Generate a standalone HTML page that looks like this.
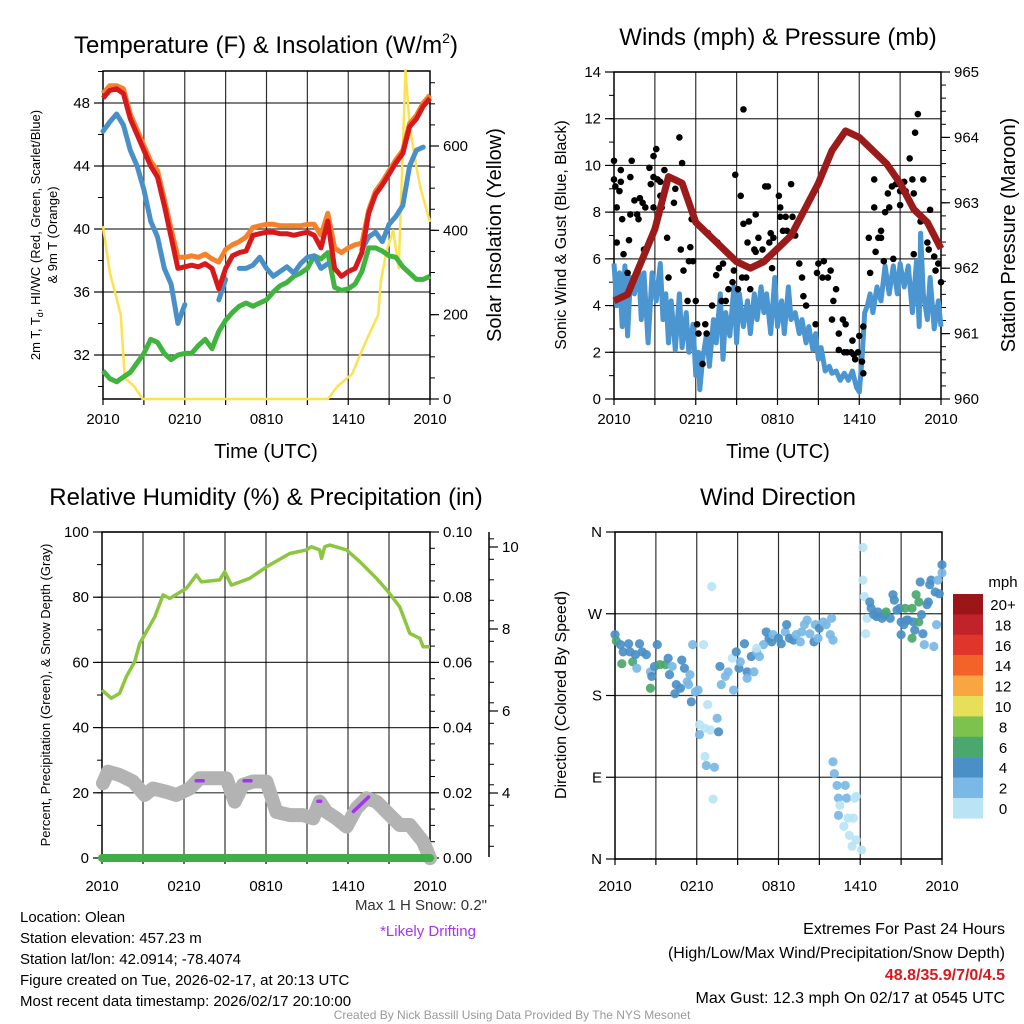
<!DOCTYPE html>
<html><head><meta charset="utf-8">
<style>
html,body{margin:0;padding:0;background:#fff;}
body{width:1024px;height:1024px;position:relative;overflow:hidden;font-family:"Liberation Sans",sans-serif;}
svg{position:absolute;left:0;top:0;}
text{font-family:"Liberation Sans",sans-serif;fill:#000;}
</style></head>
<body>
<svg id="chart" width="1024" height="1024" viewBox="0 0 1024 1024" xmlns="http://www.w3.org/2000/svg">
<text x="266" y="53" font-size="24" text-anchor="middle">Temperature (F) &amp; Insolation (W/m<tspan font-size="14" dy="-10">2</tspan><tspan dy="10">)</tspan></text>
<text x="778" y="45" font-size="24" text-anchor="middle">Winds (mph) &amp; Pressure (mb)</text>
<text x="266" y="505" font-size="24" text-anchor="middle">Relative Humidity (%) &amp; Precipitation (in)</text>
<text x="778" y="505" font-size="24" text-anchor="middle">Wind Direction</text>

<text x="266" y="458" font-size="20" text-anchor="middle">Time (UTC)</text>
<text x="778" y="458" font-size="20" text-anchor="middle">Time (UTC)</text>
<text transform="translate(40,235) rotate(-90)" font-size="13" text-anchor="middle">2m T, T<tspan font-size="9" dy="3">d</tspan><tspan dy="-3">, HI/WC (Red, Green, Scarlet/Blue)</tspan></text>
<text transform="translate(57,235) rotate(-90)" font-size="13" text-anchor="middle">&amp; 9m T (Orange)</text>
<text transform="translate(501,235) rotate(-90)" font-size="20" text-anchor="middle">Solar Insolation (Yellow)</text>
<text transform="translate(566,235) rotate(-90)" font-size="16" text-anchor="middle">Sonic Wind &amp; Gust (Blue, Black)</text>
<text transform="translate(1015,235) rotate(-90)" font-size="20" text-anchor="middle">Station Pressure (Maroon)</text>
<text transform="translate(50,695) rotate(-90)" font-size="13" text-anchor="middle">Percent, Precipitation (Green), &amp; Snow Depth (Gray)</text>
<text transform="translate(566,695) rotate(-90)" font-size="16" text-anchor="middle">Direction (Colored By Speed)</text>
<g id="layer"></g>

<text x="487" y="910" font-size="15" text-anchor="end" style="fill:#333">Max 1 H Snow: 0.2"</text>
<text x="428" y="936" font-size="15" text-anchor="middle" style="fill:#a335ee">*Likely Drifting</text>
<g font-size="15">
<text x="20" y="922">Location: Olean</text>
<text x="20" y="943">Station elevation: 457.23 m</text>
<text x="20" y="964">Station lat/lon: 42.0914; -78.4074</text>
<text x="20" y="985">Figure created on Tue, 2026-02-17, at 20:13 UTC</text>
<text x="20" y="1006">Most recent data timestamp: 2026/02/17 20:10:00</text>
</g>
<g font-size="16" text-anchor="end">
<text x="1005" y="934">Extremes For Past 24 Hours</text>
<text x="1005" y="958">(High/Low/Max Wind/Precipitation/Snow Depth)</text>
<text x="1005" y="980" font-weight="bold" style="fill:#d7191c">48.8/35.9/7/0/4.5</text>
<text x="1005" y="1003">Max Gust: 12.3 mph On 02/17 at 0545 UTC</text>
</g>
<text x="512" y="1019" font-size="12" text-anchor="middle" style="fill:#999">Created By Nick Bassill Using Data Provided By The NYS Mesonet</text>
</svg>
<script>
// ---------- DATA ----------
const timeLabels = ["2010","0210","0810","1410","2010"];
const halfHours = Array.from({length:49},(_,i)=>i*0.5);
const temp2m = [48.3,48.8,48.9,48.6,47,46,45,44,43.3,41.5,39.5,37.5,37.6,37.7,37.6,37.8,37.5,36.2,37.5,38.3,38.5,38.6,39.6,39.7,39.8,39.8,39.7,39.7,39.6,39.7,39.8,39.6,38.8,40.5,37.5,37,37.3,37.5,38.5,41,42.2,42.8,43.5,44.2,44.8,46.5,47,47.8,48.3];
const temp9m = [48.6,49.1,49.1,48.9,47.3,46.3,45.3,44.3,43.7,41.9,40,38.2,38.2,38.3,38.2,38.4,38.1,37.9,38.7,39,39.2,39.5,40.1,40.2,40.3,40.3,40.2,40.2,40.2,40.2,40.3,40.3,39.6,41,38.8,38.5,38.8,39,39.1,41.2,42.4,43,43.7,44.4,45,46.7,47.2,48,48.5];
const dewpoint = [31,30.5,30.3,30.6,30.9,31.5,32.1,33,32.8,32.1,31.7,32,32.1,32.1,32.6,33,32.4,33.5,34.2,34.7,35.1,35.3,35.1,35.3,35.5,36,36.4,36.6,37,37.2,37.5,38.3,38.1,38.5,36.3,36.1,36.2,36.5,37.3,38.8,38.8,38.6,38.3,38.2,37.6,37.2,36.8,36.8,37];
const windChill = [46.2,46.8,47.3,46.6,45,44,42.5,40.5,39.5,37.5,36.5,34,35.2,null,35.3,null,null,35.5,36.8,null,37.5,37.5,37.7,38.2,37.5,37,37.3,37.6,37.2,37.8,38.2,38.3,37.5,37.8,null,36.4,null,null,38.7,39.5,39.8,39.2,40.3,40.8,41.5,44,45,45.2,null];
const solarHours = [0,0.5,0.9,1.3,1.6,2.3,2.9,16.5,17.2,18.3,19.2,20.2,20.4,20.8,21.3,21.7,22.2,22.5,23,23.3,24];
const solarVals  = [410,300,250,200,50,30,0,0,30,60,130,200,280,350,400,310,780,650,550,500,420];
const pressHours = Array.from({length:25},(_,i)=>i);
const pressure = [961.5,961.6,962.1,962.6,963.4,963.3,962.7,962.5,962.3,962.1,962.0,962.1,962.3,962.5,962.9,963.3,963.8,964.1,964.0,963.8,963.6,963.3,962.9,962.7,962.3];
const sonicHours = [0,0.2,0.4,0.6,0.8,1,1.2,1.5,1.8,2,2.2,2.5,2.8,3.1,3.4,3.6,3.8,4,4.2,4.5,4.8,5,5.3,5.5,5.8,6,6.2,6.3,6.5,6.8,7,7.3,7.5,7.8,8,8.2,8.5,8.8,9,9.2,9.5,9.8,10,10.3,10.5,10.8,11,11.2,11.5,11.8,12,12.3,12.5,12.8,13,13.3,13.6,13.8,14.1,14.3,14.6,14.8,15,15.2,15.5,15.8,16,16.3,16.6,16.9,17.2,17.5,17.8,18,18.2,18.4,18.6,18.8,19,19.3,19.6,19.9,20.2,20.5,20.8,21,21.3,21.6,21.9,22.2,22.4,22.5,22.7,23,23.2,23.5,23.8,24];
const sonicWind = [5.8,4.0,5.4,3.1,5.7,2.7,5.2,4.5,5.7,3.4,5.4,2.4,5.4,4.2,5.8,3.4,4.5,2.4,4.2,2.1,4.5,2.2,3.7,2.0,3.2,1.0,2.0,0.4,1.7,2.8,1.4,3.4,2.4,4.5,1.7,3.7,2.7,4.8,2.4,4.5,3.1,4.2,2.8,4.5,3.4,4.8,3.7,4.5,2.8,5.2,3.1,4.2,2.8,4.8,3.4,3.7,2.8,3.4,2.4,3.1,2.1,2.8,1.7,2.2,1.2,1.4,1.1,1.2,0.8,1.1,0.8,1.2,0.5,0.3,1.7,3.7,4.0,4.5,3.7,4.8,4.2,5.7,4.5,5.7,4.5,5.8,4.8,5.7,3.7,5.9,3.1,7.1,4.5,3.4,5.2,3.0,4.2,3.1];
const gustHours = [0,0,0.1,0.2,0.4,0.5,0.5,0.6,0.7,0.2,1.0,1.1,1.2,1.2,1.3,1.5,1.7,1.8,1.9,2.1,2.3,2.2,2.6,2.7,2.9,2.9,2.9,3.1,3.2,3.4,3.4,3.3,3.7,3.5,3.9,4.0,4.4,4.5,4.8,4.9,5.0,5.1,5.4,5.5,5.6,5.7,5.8,6.0,6.1,6.2,6.5,6.7,6.8,6.9,7.2,7.5,7.6,7.7,7.9,8.0,8.2,8.4,8.7,8.8,8.9,9.1,9.3,9.4,9.5,9.7,9.9,9.8,10.0,10.3,10.4,10.4,10.6,10.9,11.0,11.1,11.3,11.4,11.5,11.6,11.7,12.1,12.2,12.2,12.4,12.6,12.7,13.0,13.1,13.3,13.6,13.7,13.8,13.9,14.1,14.8,14.9,15.0,15.3,15.4,15.7,15.9,16.0,16.3,16.1,16.5,16.8,17.0,16.5,16.9,17.1,17.4,17.6,17.9,18.0,17.5,17.7,18.2,18.3,18.3,18.7,18.8,19.1,19.1,19.2,19.4,19.6,19.6,19.8,19.9,20.1,20.2,20.4,20.5,20.7,20.8,21.0,21.0,21.3,21.4,21.7,21.9,22.0,22.0,22.1,22.3,22.5,22.7,23.0,23.1,23.2,23.5,23.6,23.8,24.0,9.5];
const gustVals  = [9.4,10.2,9.1,8.2,8.9,9.8,9.3,7.7,6.2,6.7,5.4,6.8,7.9,9.5,10.2,8.5,7.9,7.7,8.6,8.4,8.2,6.4,9.9,9.2,8.2,10.4,9.5,10.7,9.4,9.3,8.7,7.9,9.8,8.2,6.9,5.2,8.4,9.0,11.2,6.4,10.1,5.5,4.2,5.9,6.5,7.7,5.9,4.2,3.2,2.8,1.5,3.2,2.8,7.1,4.0,5.3,6.7,5.6,4.2,5.8,4.2,4.7,5.0,5.5,9.6,4.7,8.7,5.2,7.5,5.2,7.6,6.7,4.7,6.4,7.9,6.3,6.9,6.4,5.9,9.1,9.1,6.7,7.1,5.6,6.9,8.7,8.2,7.8,7.2,7.8,7.2,9.2,7.8,7.0,5.8,7.8,5.2,4.4,4.0,3.2,5.4,5.8,5.2,5.9,5.2,5.5,3.4,4.7,4.2,2.8,3.4,3.2,2.1,2.0,2.0,2.0,1.9,2.0,2.7,2.5,1.7,1.6,1.1,3.1,6.9,5.4,8.2,9.4,6.3,6.9,7.2,6.9,5.9,8.0,8.8,8.2,9.1,6.0,9.2,9.4,8.9,8.3,9.3,8.9,10.3,9.4,8.8,6.2,11.4,12.2,7.6,9.4,6.7,6.4,8.1,6.1,5.5,5.8,5.0,12.4];
const rhHours = [0,0.68,1.29,1.78,2.39,2.76,3.86,4.47,4.95,6.17,6.91,7.27,8.61,8.98,9.47,10.81,12.03,13.74,14.96,15.32,15.93,16.06,16.3,16.67,17.89,18.86,20.08,20.94,21.79,22.52,23.25,23.5,24];
const rhVals  = [51.5,49,50.5,55.6,60.2,65.8,74,80.7,79.6,82.7,86.8,84.7,85.3,87.8,83.7,85.8,89.3,93.4,94.5,95.5,94.5,91.9,95.5,96,94.5,90.9,85.8,81.7,77,68.9,67.4,64.8,64.8];
const snowHours = [0.07,0.44,1.29,2.27,3.12,3.73,4.71,5.44,6.42,7.15,8.37,9.1,9.71,10.32,11.05,12.03,12.76,13.74,14.71,15.45,15.93,16.42,17.15,17.89,18.62,19.35,20.08,21.06,21.79,22.52,23.5,24];
const snowDepth = [4.24,4.52,4.44,4.28,3.95,4.11,4.03,3.95,4.11,4.36,4.36,4.36,3.79,4.2,4.28,4.28,3.54,3.46,3.46,3.38,3.79,3.54,3.38,3.18,3.63,3.87,3.79,3.46,3.22,3.22,2.81,2.41];
const driftStart = [6.9,10.4,15.8,18.4];
const driftEnd   = [7.4,10.9,16.0,19.5];
const driftS0    = [4.3,4.3,3.8,3.55];
const driftS1    = [4.3,4.3,3.8,3.9];
const precipHours = [0,24];
const precipVals  = [0,0];
const dirHours = [0.0,0.1,0.4,0.6,0.5,1.0,1.1,1.3,1.5,1.8,2.0,1.6,2.3,2.6,2.7,2.6,3.1,2.9,3.3,3.7,3.9,4.0,4.2,4.5,4.4,4.8,4.9,5.1,5.3,5.5,5.4,5.6,5.9,6.1,5.7,6.5,6.2,6.6,6.8,7.0,7.5,7.6,6.2,6.6,6.7,7.3,7.2,7.1,7.7,7.8,8.1,8.3,8.6,8.7,8.9,9.1,9.2,9.5,9.7,9.7,10.0,10.2,10.4,10.6,10.9,11.1,11.3,11.5,11.6,12.0,12.2,12.5,12.6,12.8,13.1,13.3,13.6,13.7,13.9,14.1,14.3,14.6,14.7,14.9,15.0,15.3,15.5,15.8,15.9,16.0,10.4,16.0,16.1,16.3,16.4,16.5,16.9,17.0,16.4,16.8,17.1,17.5,17.6,17.7,17.2,17.4,17.7,18.1,18.2,18.2,18.3,18.5,18.4,18.7,18.8,19.0,19.2,19.3,19.6,19.8,19.9,20.2,20.4,20.5,20.7,20.9,21.0,21.2,21.3,21.4,21.5,21.8,21.9,22.0,22.1,22.3,22.3,21.8,21.0,22.4,22.5,22.6,22.7,22.9,23.0,23.1,23.2,23.4,23.5,23.6,23.7,23.8,24.0,24.0];
const dirVals = [247,240,236,228,215,237,228,217,225,237,228,210,225,206,201,188,236,212,214,214,221,203,212,192,182,188,219,210,195,203,192,173,184,186,236,236,148,144,170,142,155,140,137,113,103,101,66,300,212,192,201,206,221,186,228,210,217,237,206,199,223,206,228,223,236,250,243,239,247,243,237,250,258,243,241,247,239,250,258,263,248,239,258,243,254,261,258,247,265,241,232,107,94,81,67,59,81,67,48,36,45,45,67,69,26,14,21,10,343,307,289,265,248,283,276,269,267,272,265,269,272,265,291,285,274,276,261,258,276,263,263,276,261,252,291,261,283,243,247,305,269,248,236,280,283,302,307,234,294,258,307,292,315,324];
const dirSpeed = [5,7,5,5,7,5,5,7,5,5,5,3,5,3,5,7,5,5,7,7,5,5,3,5,5,5,5,5,3,3,3,5,3,3,3,1,1,1,1,1,3,5,3,1,3,3,1,1,5,3,3,3,1,3,5,5,3,5,5,3,5,3,3,3,3,5,5,5,3,5,5,3,5,5,5,3,3,3,3,3,3,5,3,3,5,3,3,3,3,3,1,3,3,3,3,1,3,3,3,1,1,1,1,1,1,1,1,1,1,1,1,1,1,5,5,5,5,5,5,5,7,5,5,5,5,5,5,5,7,5,5,7,5,5,7,7,7,7,5,5,5,5,3,5,5,5,5,3,5,3,3,5,3,5];
const speedBins = ["20+","18","16","14","12","10","8","6","4","2","0"];
const binColors = ["#9b1519","#c1232a","#e0352b","#f26229","#f8a542","#e8df58","#7dc24c","#4aa86e","#4a8fc6","#7ab9e5","#b8e4f6"];

// ---------- DRAW ----------
const NS="http://www.w3.org/2000/svg";
const layer=document.getElementById('layer');
function mk(tag,attrs,name,parent){
  const el=document.createElementNS(NS,tag);
  for(const k in attrs) el.setAttribute(k,attrs[k]);
  
  
  (parent||layer).appendChild(el);
  return el;
}
function scale(d0,d1,r0,r1){return v=>r0+(v-d0)/(d1-d0)*(r1-r0);}
function pathFrom(xs,ys,fx,fy){
  let d="",pen=false;
  for(let i=0;i<xs.length;i++){
    if(ys[i]==null){pen=false;continue;}
    d+=(pen?"L":"M")+fx(xs[i]).toFixed(1)+" "+fy(ys[i]).toFixed(1);
    pen=true;
  }
  return d;
}
function frame(x0,x1,y0,y1,name,hGrid,fy,xs,labOff){
  const g=mk('g',{},name+'-frame');
  for(let h=3;h<24;h+=3){const x=xs(h);mk('line',{x1:x,x2:x,y1:y0,y2:y1,stroke:'#000','stroke-width':1.2,opacity:0.8},name+'-vgrid',g);}
  hGrid.forEach(v=>{const y=fy(v);mk('line',{x1:x0,x2:x1,y1:y,y2:y,stroke:'#000','stroke-width':1.2,opacity:0.8},name+'-hgrid',g);});
  mk('rect',{x:x0,y:y0,width:x1-x0,height:y1-y0,fill:'none',stroke:'#000','stroke-width':1.5},name+'-border',g);
  for(let h=0;h<=24;h+=3){const x=xs(h);mk('line',{x1:x,x2:x,y1:y1,y2:y1+6,stroke:'#000','stroke-width':1.2},name+'-xtick',g);}
  timeLabels.forEach((t,i)=>{const tl=mk('text',{x:xs(i*6),y:y1+labOff,'font-size':15,'text-anchor':'middle'},name+'-xlabel',g);tl.textContent=t;});
  return g;
}
function yAxis(x,fy,major,labels,minor,side,name,fs){
  const dir=side==='left'?-1:1;
  minor.forEach(v=>mk('line',{x1:x,x2:x+dir*5,y1:fy(v),y2:fy(v),stroke:'#000','stroke-width':1},name+'-minor-tick'));
  major.forEach((v,i)=>{
    mk('line',{x1:x,x2:x+dir*9,y1:fy(v),y2:fy(v),stroke:'#000','stroke-width':1.2},name+'-tick');
    const t=mk('text',{x:x+dir*13,y:fy(v)+5,'font-size':fs||15,'text-anchor':side==='left'?'end':'start'},name+'-label');
    t.textContent=labels[i];
  });
}
function range(a,b,s){const r=[];for(let v=a;v<=b+1e-9;v+=s)r.push(+v.toFixed(4));return r;}

// Panel 1
{
 const X0=103,X1=430,Y0=71,Y1=399;
 const xs=scale(0,24,X0,X1), yt=scale(32,48,355,103), ys=scale(0,600,399,146);
 frame(X0,X1,Y0,Y1,'temp-panel',[48,44,40,36,32],yt,xs,25);
 yAxis(X0,yt,[48,44,40,36,32],["48","44","40","36","32"],range(30,50,2),'left','temp-y-axis');
 yAxis(X1,ys,[0,200,400,600],["0","200","400","600"],range(0,750,50),'right','solar-y-axis');
 mk('path',{d:pathFrom(solarHours,solarVals,xs,ys),fill:'none',stroke:'#fde24f','stroke-width':2.5,'stroke-linejoin':'round'},'solar-insolation-line');
 mk('path',{d:pathFrom(halfHours,dewpoint,xs,yt),fill:'none',stroke:'#41b33f','stroke-width':5,'stroke-linejoin':'round'},'dewpoint-line');
 mk('path',{d:pathFrom(halfHours,windChill,xs,yt),fill:'none',stroke:'#4a90c8','stroke-width':5,'stroke-linejoin':'round','stroke-linecap':'round'},'wind-chill-line');
 mk('path',{d:pathFrom(halfHours,temp9m,xs,yt),fill:'none',stroke:'#f5822a','stroke-width':5,'stroke-linejoin':'round'},'temp-9m-line');
 mk('path',{d:pathFrom(halfHours,temp2m,xs,yt),fill:'none',stroke:'#d7191c','stroke-width':5,'stroke-linejoin':'round'},'temp-2m-line');
}
// Panel 2
{
 const X0=614,X1=941,Y0=72,Y1=399;
 const xs=scale(0,24,X0,X1), yw=scale(0,14,399,72), yp=scale(960,965,399,72);
 frame(X0,X1,Y0,Y1,'wind-panel',[0,2,4,6,8,10,12,14],yw,xs,25);
 yAxis(X0,yw,[0,2,4,6,8,10,12,14],["0","2","4","6","8","10","12","14"],range(0,14,1),'left','wind-y-axis');
 yAxis(X1,yp,[960,961,962,963,964,965],["960","961","962","963","964","965"],range(960,965,0.2),'right','pressure-y-axis');
 mk('path',{d:pathFrom(sonicHours,sonicWind,xs,yw),fill:'none',stroke:'#4b95d0','stroke-width':5,'stroke-linejoin':'round'},'sonic-wind-line');
 const gg=mk('g',{},'gust-points');
 for(let i=0;i<gustHours.length;i++) mk('circle',{cx:xs(gustHours[i]),cy:yw(gustVals[i]),r:3.3,fill:'#000'},'gust-point',gg);
 mk('path',{d:pathFrom(pressHours,pressure,xs,yp),fill:'none',stroke:'#9b1b1b','stroke-width':7,'stroke-linejoin':'round'},'pressure-line');
}
// Panel 3
{
 const X0=102,X1=430,Y0=532,Y1=858;
 const xs=scale(0,24,X0,X1), yr=scale(0,100,858,532), ypr=scale(0,0.1,858,532), ysn=scale(4,10,793,547);
 frame(X0,X1,Y0,Y1,'rh-panel',[0,20,40,60,80,100],yr,xs,33);
 yAxis(X0,yr,[0,20,40,60,80,100],["0","20","40","60","80","100"],range(0,100,10),'left','rh-y-axis');
 yAxis(X1,ypr,[0,0.02,0.04,0.06,0.08,0.1],["0.00","0.02","0.04","0.06","0.08","0.10"],range(0,0.1,0.005),'right','precip-y-axis');
 mk('line',{x1:489,x2:489,y1:532,y2:857,stroke:'#000','stroke-width':1.5},'snow-axis-line');
 yAxis(489,ysn,[4,6,8,10],["4","6","8","10"],range(2.2,10.2,0.5).filter(v=>ysn(v)>=534&&ysn(v)<=856),'right','snow-y-axis');
 mk('path',{d:pathFrom(snowHours,snowDepth,xs,ysn),fill:'none',stroke:'#b3b3b3','stroke-width':14,'stroke-linejoin':'round','stroke-linecap':'round'},'snow-depth-line');
 for(let i=0;i<driftStart.length;i++) mk('line',{x1:xs(driftStart[i]),x2:xs(driftEnd[i]),y1:ysn(driftS0[i]),y2:ysn(driftS1[i]),stroke:'#a335ee','stroke-width':3.5,'stroke-linecap':'round'},'drift-segment');
 mk('path',{d:pathFrom(rhHours,rhVals,xs,yr),fill:'none',stroke:'#8cc63f','stroke-width':3.5,'stroke-linejoin':'round'},'rh-line');
 mk('path',{d:pathFrom(precipHours,precipVals,xs,ypr),fill:'none',stroke:'#3fae48','stroke-width':8,'stroke-linecap':'round'},'precip-line');
}
// Panel 4
{
 const X0=615,X1=942,Y0=532,Y1=859;
 const xs=scale(0,24,X0,X1), yd=scale(0,360,859,532);
 frame(X0,X1,Y0,Y1,'dir-panel',[0,90,180,270,360],yd,xs,32);
 yAxis(X0,yd,[0,90,180,270,360],["N","E","S","W","N"],[],'left','dir-y-axis');
 const gg=mk('g',{},'direction-points');
 for(let i=0;i<dirHours.length;i++){
   const bi=10-Math.min(10,Math.floor(dirSpeed[i]/2));
   mk('circle',{cx:xs(dirHours[i]),cy:yd(dirVals[i]),r:4.6,fill:binColors[bi],opacity:0.92},'direction-point',gg);
 }
 const cb=mk('g',{},'speed-colorbar');
 const t=mk('text',{x:1003,y:587,'font-size':15,'text-anchor':'middle'},'colorbar-unit',cb); t.textContent='mph';
 speedBins.forEach((lab,i)=>{
   mk('rect',{x:953,y:594+i*20.4,width:30,height:20.6,fill:binColors[i]},'colorbar-swatch',cb);
   const tl=mk('text',{x:1003,y:594+i*20.4+16,'font-size':15,'text-anchor':'middle'},'colorbar-label',cb); tl.textContent=lab;
 });
}
</script>
</body></html>
